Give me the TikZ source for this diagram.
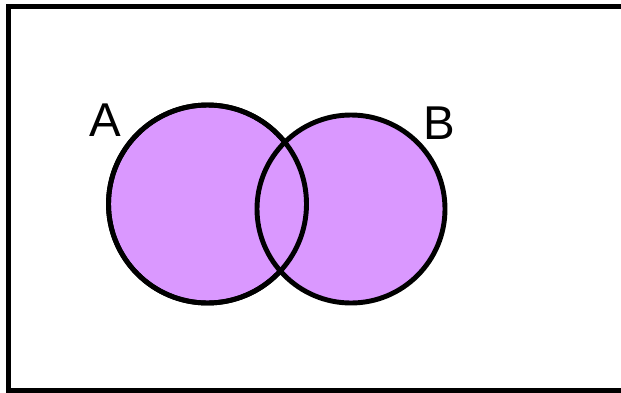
\documentclass[tikz,border=0pt]{standalone}
\usepackage{fontspec}
\setmainfont{Liberation Sans}
\usetikzlibrary{positioning}
\definecolor{setfill}{RGB}{218,152,255}
\tikzset{
  set/.style={circle, draw=black, line width=2.8pt, fill=setfill, inner sep=0pt},
  setlabel/.style={font=\fontsize{27}{30}\selectfont, inner sep=0pt},
}

\begin{document}
\begin{tikzpicture}
\useasboundingbox (0,0) rectangle (12.42,7.84);
\clip (0,0) rectangle (12.42,7.84);
% universe
\draw[line width=2.8pt] (0.17,0.03) rectangle (12.8,7.71);

% the two sets
\node[set, minimum size=3.96cm] (A) at (4.15,3.76) {};
\node[set, minimum size=3.76cm] (B) at (7.02,3.66) {};
\draw[line width=2.8pt] (A.center) circle (1.98);

\node[setlabel] (labA) at (2.1,5.44) {A};
\node[setlabel] (labB) at (8.78,5.38) {B};
\end{tikzpicture}
\end{document}
